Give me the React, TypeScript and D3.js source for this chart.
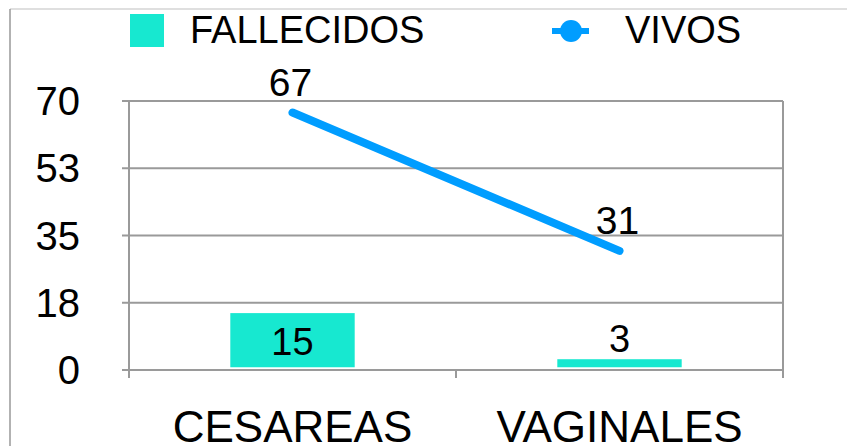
import React from "react";
import * as d3 from "d3";

const categories = ["CESAREAS", "VAGINALES"];
const fallecidos = [15, 3];
const vivos = [67, 31];
const yTicks = [0, 17.5, 35, 52.5, 70];
const yTickLabels = ["0", "18", "35", "53", "70"];
const seriesNames = ["FALLECIDOS", "VIVOS"];

const W = 847;
const H = 446;
const BAR = "#17e8d0";
const LINE = "#009dff";
const GRID = "#9a9a9a";
const FONT = "'Liberation Sans', Arial, Helvetica, sans-serif";

export default function App() {
  const left = 129, right = 783, top = 101, bottom = 370;
  const x = d3.scaleBand<string>().domain(categories).range([left, right]).paddingInner(0).paddingOuter(0);
  const y = d3.scaleLinear().domain([0, 70]).range([bottom, top]);
  const bw = x.bandwidth() * 0.385;
  const cx = (c: string) => (x(c) as number) + x.bandwidth() / 2;
  const line = d3.line<number>().x((_, i) => cx(categories[i])).y((d) => y(d));

  return (
    <svg width={W} height={H} style={{ position: "absolute", left: 0, top: 0, background: "#fff" }} fontFamily={FONT}>
      <rect x={0} y={0} width={W} height={H} fill="#fff" />
      {/* outer frame */}
      <line x1={10} y1={9} x2={W} y2={9} stroke="#d4d4d4" strokeWidth={1.5} />
      <line x1={10} y1={9} x2={10} y2={H} stroke="#999" strokeWidth={1.5} />

      {/* gridlines */}
      {yTicks.map((t, i) => (
        <g key={i}>
          <line x1={left - 7} x2={right} y1={y(t)} y2={y(t)} stroke={GRID} strokeWidth={2} />
          <text x={80} y={y(t) + 14} textAnchor="end" fontSize={40} fill="#000">
            {yTickLabels[i]}
          </text>
        </g>
      ))}
      {/* plot borders */}
      <line x1={left} x2={left} y1={top} y2={bottom + 8} stroke={GRID} strokeWidth={2} />
      <line x1={right} x2={right} y1={top} y2={bottom + 8} stroke={GRID} strokeWidth={2} />
      <line x1={(x(categories[1]) as number)} x2={(x(categories[1]) as number)} y1={bottom} y2={bottom + 8} stroke={GRID} strokeWidth={2} />

      {/* bars */}
      {categories.map((c, i) => (
        <rect
          key={c}
          x={cx(c) - bw / 2}
          y={y(fallecidos[i])}
          width={bw}
          height={y(0) - y(fallecidos[i]) - 2}
          fill={BAR}
          stroke="#fff"
          strokeWidth={1.5}
        />
      ))}
      {/* bar labels */}
      <text x={cx(categories[0])} y={(y(fallecidos[0]) + y(0)) / 2 + 14} textAnchor="middle" fontSize={38} fill="#000">
        {fallecidos[0]}
      </text>
      <text x={cx(categories[1])} y={y(fallecidos[1]) - 6} textAnchor="middle" fontSize={38} fill="#000">
        {fallecidos[1]}
      </text>

      {/* line */}
      <path d={line(vivos) as string} fill="none" stroke={LINE} strokeWidth={8} strokeLinecap="round" />
      {vivos.map((v, i) => (
        <text key={i} x={cx(categories[i]) - 2} y={y(v) - 17} textAnchor="middle" fontSize={39} fill="#000">
          {v}
        </text>
      ))}

      {/* category labels */}
      {categories.map((c) => (
        <text key={c} x={cx(c)} y={442} textAnchor="middle" fontSize={44} fill="#000">
          {c}
        </text>
      ))}

      {/* legend */}
      <rect x={130} y={14} width={34} height={33} fill={BAR} />
      <text x={190} y={43} fontSize={38} fill="#000">{seriesNames[0]}</text>
      <line x1={552} x2={589} y1={31} y2={31} stroke={LINE} strokeWidth={6} />
      <circle cx={571} cy={31} r={11} fill={LINE} />
      <text x={625} y={43} fontSize={38} fill="#000">{seriesNames[1]}</text>
    </svg>
  );
}
